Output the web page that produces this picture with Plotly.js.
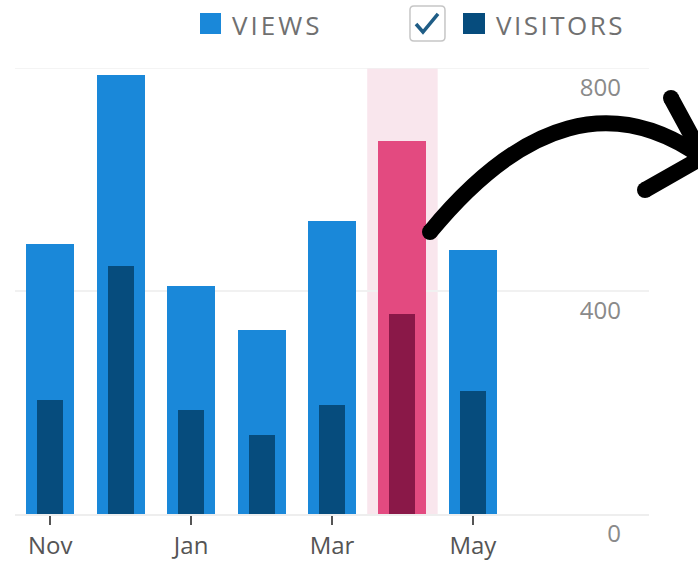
<!DOCTYPE html>
<html>
<head>
<meta charset="utf-8">
<script src="https://cdn.plot.ly/plotly-3.0.1.min.js"></script>
<style>html,body{margin:0;padding:0;background:#fff;}#chart{width:698px;height:561px;}</style>
</head>
<body>
<div id="chart"></div>
<script>
// ---- data ----
const months = ['Nov', 'Dec', 'Jan', 'Feb', 'Mar', 'Apr', 'May'];
const views = [484, 787, 409, 330, 526, 669, 474];
const visitors = [204, 445, 187, 142, 196, 359, 221];
const highlightMonth = 'Apr';
const xTickLabels = ['Nov', 'Jan', 'Mar', 'May'];
const yTickValues = [0, 400, 800];

// ---- style ----
const W = 698, H = 561;
const M = {l: 15, r: 49, t: 68, b: 47};
const PW = W - M.l - M.r, PH = H - M.t - M.b;
const px = (x) => (x - M.l) / PW;          // pixel -> paper x
const py = (y) => (H - M.b - y) / PH;      // pixel -> paper y

const cViews = '#1a88d9', cVisitors = '#064c7d';
const cViewsHi = '#e34a80', cVisitorsHi = '#8a1848';
const cBand = '#f9e6ed';
const cGrid = '#f1f1f1';
const FONT = 'Open Sans, Noto Sans, sans-serif';

const viewColors = months.map(m => m === highlightMonth ? cViewsHi : cViews);
const visitorColors = months.map(m => m === highlightMonth ? cVisitorsHi : cVisitors);

const traces = [
  {type: 'bar', x: months, y: views, name: 'VIEWS', width: 0.68,
   marker: {color: viewColors, line: {width: 0}}, hoverinfo: 'x+y'},
  {type: 'bar', x: months, y: visitors, name: 'VISITORS', width: 0.37,
   marker: {color: visitorColors, line: {width: 0}}, hoverinfo: 'x+y'}
];

// arrow (pixel coordinates converted to paper)
const p = (x, y) => px(x).toFixed(4) + ',' + py(y).toFixed(4);
const arrowCurve = 'M' + p(430, 232) + ' Q' + p(570, 62) + ' ' + p(703, 158);
const arrowArms = 'M' + p(671, 98) + ' L' + p(703, 157) + ' L' + p(645, 190);
const capR = 8;
const cap = (x, y) => ({type: 'circle', xref: 'paper', yref: 'paper',
  x0: px(x - capR), x1: px(x + capR), y0: py(y + capR), y1: py(y - capR),
  fillcolor: '#000', line: {width: 0}, layer: 'above'});

const shapes = [
  {type: 'rect', xref: 'x', yref: 'paper', x0: months.indexOf(highlightMonth) - 0.5,
   x1: months.indexOf(highlightMonth) + 0.5, y0: 0, y1: 1,
   fillcolor: cBand, line: {width: 0}, layer: 'below'},
  // top grid line (edge gridline)
  {type: 'line', xref: 'paper', yref: 'y', x0: 0, x1: 1,
   y0: yTickValues[yTickValues.length - 1], y1: yTickValues[yTickValues.length - 1],
   line: {color: cGrid, width: 1.5}, layer: 'below'},
  {type: 'path', xref: 'paper', yref: 'paper', path: arrowCurve,
   line: {color: '#000', width: 16}, layer: 'above'},
  {type: 'path', xref: 'paper', yref: 'paper', path: arrowArms,
   line: {color: '#000', width: 16}, layer: 'above'},
  cap(430, 232), cap(671, 98), cap(645, 190),
  // legend swatches
  {type: 'rect', xref: 'paper', yref: 'paper', x0: px(200), x1: px(221), y0: py(34), y1: py(13),
   fillcolor: cViews, line: {width: 0}},
  {type: 'path', xref: 'paper', yref: 'paper',
   path: 'M' + p(414, 6) + ' L' + p(441, 6) + ' Q' + p(445, 6) + ' ' + p(445, 10) +
         ' L' + p(445, 37) + ' Q' + p(445, 41) + ' ' + p(441, 41) +
         ' L' + p(414, 41) + ' Q' + p(410, 41) + ' ' + p(410, 37) +
         ' L' + p(410, 10) + ' Q' + p(410, 6) + ' ' + p(414, 6) + ' Z',
   fillcolor: '#ffffff', line: {color: '#c6c6c6', width: 1.5}},
  {type: 'path', xref: 'paper', yref: 'paper',
   path: 'M' + p(416, 24) + ' L' + p(423, 32) + ' L' + p(438, 14),
   line: {color: '#1f5d86', width: 3.5}},
  {type: 'rect', xref: 'paper', yref: 'paper', x0: px(463), x1: px(485), y0: py(34), y1: py(13),
   fillcolor: cVisitors, line: {width: 0}}
];

const legendFont = {family: FONT, size: 26, color: '#707070'};
const annotations = [
  {xref: 'paper', yref: 'paper', x: px(230), y: py(25), xanchor: 'left', yanchor: 'middle',
   text: '<span style="letter-spacing:3px">VIEWS</span>', showarrow: false, font: legendFont},
  {xref: 'paper', yref: 'paper', x: px(494), y: py(25), xanchor: 'left', yanchor: 'middle',
   text: '<span style="letter-spacing:2.5px">VISITORS</span>', showarrow: false, font: legendFont}
];

const layout = {
  width: W, height: H,
  margin: M,
  paper_bgcolor: '#ffffff', plot_bgcolor: '#ffffff',
  showlegend: false,
  barmode: 'overlay',
  bargap: 0,
  font: {family: FONT, color: '#666'},
  xaxis: {
    type: 'category', range: [-0.5, 8.5], fixedrange: true,
    tickmode: 'array', tickvals: xTickLabels, ticktext: xTickLabels,
    ticks: 'outside', ticklen: 9, tickwidth: 1.5, tickcolor: '#555',
    showgrid: false, showline: true, linecolor: '#eeeeee', linewidth: 2,
    zeroline: false,
    tickfont: {family: FONT, size: 24, color: '#555'},
    automargin: false
  },
  yaxis: {
    range: [0, 800], fixedrange: true,
    side: 'left', anchor: 'free', position: px(621),
    tickmode: 'array', tickvals: yTickValues,
    ticklabelposition: 'outside', ticklabelshift: 20,
    showgrid: true, gridcolor: cGrid, gridwidth: 1.5,
    zeroline: false, showline: false, ticks: '',
    tickfont: {family: FONT, size: 24, color: '#8a8a8a'},
    automargin: false
  },
  shapes: shapes,
  annotations: annotations
};

Plotly.newPlot('chart', traces, layout, {displayModeBar: false, staticPlot: true});
</script>
</body>
</html>
